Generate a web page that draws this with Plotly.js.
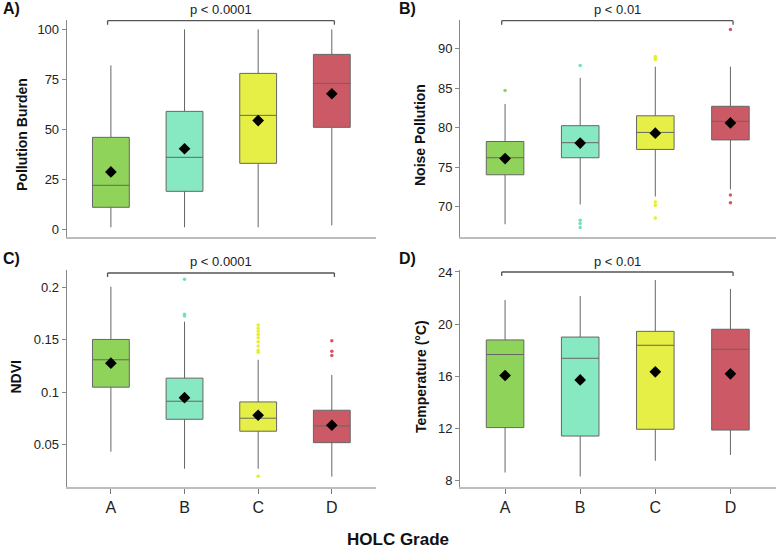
<!DOCTYPE html>
<html>
<head>
<meta charset="utf-8">
<script src="https://cdn.plot.ly/plotly-3.0.1.min.js"></script>
<style>html,body{margin:0;padding:0;background:#fff;}#chart{width:776px;height:550px;}</style>
</head>
<body>
<div id="chart"></div>
<script>
// ---- Data ----
const grades = ['A', 'B', 'C', 'D'];
const gradeColors = ['#8fd35a', '#87e9c2', '#e6ef45', '#cc5a66'];
const outlierColors = ['#8fd35a', '#6fe2bf', '#e6ef2a', '#d2596a'];

// A) Pollution Burden
const pbLow  = [1, 1, 1, 2];
const pbQ1   = [11, 19, 33, 51];
const pbMed  = [22, 36, 57, 73];
const pbQ3   = [46, 59, 78, 87.5];
const pbHigh = [82, 100, 100, 100];
const pbMean = [28.7, 40.3, 54.4, 67.8];
const pbOut  = [[], [], [], []];

// B) Noise Pollution
const nzLow  = [67.8, 70.3, 71.3, 72.2];
const nzQ1   = [74.05, 76.2, 77.25, 78.45];
const nzMed  = [76.2, 78.1, 79.4, 80.8];
const nzQ3   = [78.25, 80.25, 81.5, 82.7];
const nzHigh = [83.0, 86.3, 87.7, 87.7];
const nzMean = [76.1, 78.05, 79.3, 80.6];
const nzOut  = [[84.7], [87.85, 68.3, 67.9, 67.4], [88.6, 88.8, 89.0, 70.6, 70.2, 68.6], [92.4, 71.5, 70.5]];

// C) NDVI
const ndLow  = [0.0433, 0.0271, 0.027, 0.0195];
const ndQ1   = [0.1048, 0.0742, 0.0628, 0.0519];
const ndMed  = [0.1309, 0.0914, 0.0752, 0.0678];
const ndQ3   = [0.1503, 0.1134, 0.0907, 0.0828];
const ndHigh = [0.2006, 0.1672, 0.1309, 0.1165];
const ndMean = [0.1277, 0.0948, 0.078, 0.0685];
const ndOut  = [[], [0.2077, 0.1742, 0.1726], [0.164, 0.161, 0.158, 0.155, 0.152, 0.148, 0.144, 0.140, 0.138, 0.0198], [0.149, 0.1391, 0.1349]];

// D) Temperature
const tpLow  = [8.6, 8.3, 9.5, 9.95];
const tpQ1   = [12.05, 11.4, 11.92, 11.86];
const tpMed  = [17.66, 17.37, 18.37, 18.06];
const tpQ3   = [18.78, 19.0, 19.44, 19.6];
const tpHigh = [21.84, 22.15, 23.38, 22.7];
const tpMean = [16.05, 15.71, 16.33, 16.18];
const tpOut  = [[], [], [], []];

const panels = [
  {xa: 'x',  ya: 'y',  low: pbLow, q1: pbQ1, med: pbMed, q3: pbQ3, high: pbHigh, mean: pbMean, out: pbOut},
  {xa: 'x2', ya: 'y2', low: nzLow, q1: nzQ1, med: nzMed, q3: nzQ3, high: nzHigh, mean: nzMean, out: nzOut},
  {xa: 'x3', ya: 'y3', low: ndLow, q1: ndQ1, med: ndMed, q3: ndQ3, high: ndHigh, mean: ndMean, out: ndOut},
  {xa: 'x4', ya: 'y4', low: tpLow, q1: tpQ1, med: tpMed, q3: tpQ3, high: tpHigh, mean: tpMean, out: tpOut}
];

// ---- Traces ----
const traces = [];
panels.forEach(p => {
  grades.forEach((g, i) => {
    traces.push({
      type: 'box', xaxis: p.xa, yaxis: p.ya,
      x: [g], q1: [p.q1[i]], median: [p.med[i]], q3: [p.q3[i]],
      lowerfence: [p.low[i]], upperfence: [p.high[i]],
      fillcolor: gradeColors[i], line: {color: '#666', width: 1},
      whiskerwidth: 0, width: 0.5, boxpoints: false, showlegend: false, hoverinfo: 'skip'
    });
  });
  grades.forEach((g, i) => {
    if (p.out[i].length) {
      traces.push({
        type: 'scatter', mode: 'markers', xaxis: p.xa, yaxis: p.ya,
        x: p.out[i].map(() => g), y: p.out[i],
        marker: {color: outlierColors[i], size: 3.5},
        showlegend: false, hoverinfo: 'skip'
      });
    }
  });
  traces.push({
    type: 'scatter', mode: 'markers', xaxis: p.xa, yaxis: p.ya,
    x: grades, y: p.mean,
    marker: {symbol: 'diamond', color: '#000', size: 9, line: {width: 0}},
    showlegend: false, hoverinfo: 'skip'
  });
});

// ---- Layout ----
const W = 776, H = 550;
const px = v => v / W;
const py = v => 1 - v / H;
const font = 'Liberation Sans, Arial, Helvetica, sans-serif';

function xax(domain, showLabels) {
  return {
    domain: domain, type: 'category', categoryorder: 'array', categoryarray: grades,
    range: [-0.6, 3.6], showline: true, linecolor: '#bdbdbd', linewidth: 2,
    showgrid: false, zeroline: false, fixedrange: true,
    ticks: showLabels ? 'outside' : '', ticklen: 5, tickcolor: '#777', tickwidth: 1,
    showticklabels: showLabels, tickfont: {family: font, size: 16, color: '#222'}
  };
}
function yax(domain, anchor, range, tickvals, ticktext) {
  return {
    domain: domain, anchor: anchor, range: range, tickvals: tickvals, ticktext: ticktext,
    showline: true, linecolor: '#888', linewidth: 1, showgrid: false, zeroline: false,
    ticks: 'outside', ticklen: 4, tickcolor: '#888', tickwidth: 1, fixedrange: true,
    tickfont: {family: font, size: 13, color: '#222'}
  };
}

const topY = [py(237.3), py(20)];
const botY = [py(486.7), py(270)];
const leftX = [px(66.7), px(376)];
const rightX = [px(460), px(775.5)];

const layout = {
  width: W, height: H, margin: {l: 0, r: 0, t: 0, b: 0},
  paper_bgcolor: '#fff', plot_bgcolor: '#fff', showlegend: false,
  font: {family: font, color: '#222'},
  xaxis:  Object.assign(xax(leftX, false),  {anchor: 'y'}),
  xaxis2: Object.assign(xax(rightX, false), {anchor: 'y2'}),
  xaxis3: Object.assign(xax(leftX, true),   {anchor: 'y3'}),
  xaxis4: Object.assign(xax(rightX, true),  {anchor: 'y4'}),
  yaxis:  yax(topY, 'x',  [-4, 104.7], [0, 25, 50, 75, 100], ['0', '25', '50', '75', '100']),
  yaxis2: yax(topY, 'x2', [66.15, 93.6], [70, 75, 80, 85, 90], ['70', '75', '80', '85', '90']),
  yaxis3: yax(botY, 'x3', [0.0099, 0.2165], [0.05, 0.1, 0.15, 0.2], ['0.05', '0.1', '0.15', '0.2']),
  yaxis4: yax(botY, 'x4', [7.51, 24.15], [8, 12, 16, 20, 24], ['8', '12', '16', '20', '24']),
  shapes: [],
  annotations: []
};

// Brackets and p-values
const brackets = [
  {xref: 'x',  yPix: 20.7,  label: 'p < 0.0001', textPix: 9.5},
  {xref: 'x2', yPix: 20.7,  label: 'p < 0.01',   textPix: 9.5},
  {xref: 'x3', yPix: 273.0, label: 'p < 0.0001', textPix: 261.5},
  {xref: 'x4', yPix: 272.0, label: 'p < 0.01',   textPix: 261.0}
];
brackets.forEach(b => {
  const ln = {color: '#555', width: 1.3};
  layout.shapes.push({type: 'line', xref: b.xref, yref: 'paper', x0: -0.045, x1: 3.035, y0: py(b.yPix), y1: py(b.yPix), line: ln});
  layout.shapes.push({type: 'line', xref: b.xref, yref: 'paper', x0: -0.045, x1: -0.045, y0: py(b.yPix), y1: py(b.yPix + 4), line: ln});
  layout.shapes.push({type: 'line', xref: b.xref, yref: 'paper', x0: 3.035, x1: 3.035, y0: py(b.yPix), y1: py(b.yPix + 4), line: ln});
  layout.annotations.push({xref: b.xref, yref: 'paper', x: 1.5, y: py(b.textPix), text: b.label, showarrow: false,
    xanchor: 'center', yanchor: 'middle', font: {family: font, size: 13, color: '#222'}});
});

// Panel labels
[['A)', 1, 9], ['B)', 397, 9], ['C)', 1, 258], ['D)', 397, 258]].forEach(([t, x, y]) => {
  layout.annotations.push({xref: 'paper', yref: 'paper', x: px(x), y: py(y), text: '<b>' + t + '</b>', showarrow: false,
    xanchor: 'left', yanchor: 'middle', font: {family: font, size: 16, color: '#111'}});
});

// Y axis titles
[['Pollution Burden', 22, 135], ['Noise Pollution', 420, 135], ['NDVI', 15.5, 377], ['Temperature (°C)', 420.5, 376.5]].forEach(([t, x, y]) => {
  layout.annotations.push({xref: 'paper', yref: 'paper', x: px(x), y: py(y), text: '<b>' + t + '</b>', showarrow: false,
    textangle: -90, xanchor: 'center', yanchor: 'middle', font: {family: font, size: 14, color: '#111'}});
});

// Shared x title
layout.annotations.push({xref: 'paper', yref: 'paper', x: px(398), y: py(539), text: '<b>HOLC Grade</b>', showarrow: false,
  xanchor: 'center', yanchor: 'middle', font: {family: font, size: 17, color: '#111'}});

Plotly.newPlot('chart', traces, layout, {staticPlot: true, displayModeBar: false});
</script>
</body>
</html>
